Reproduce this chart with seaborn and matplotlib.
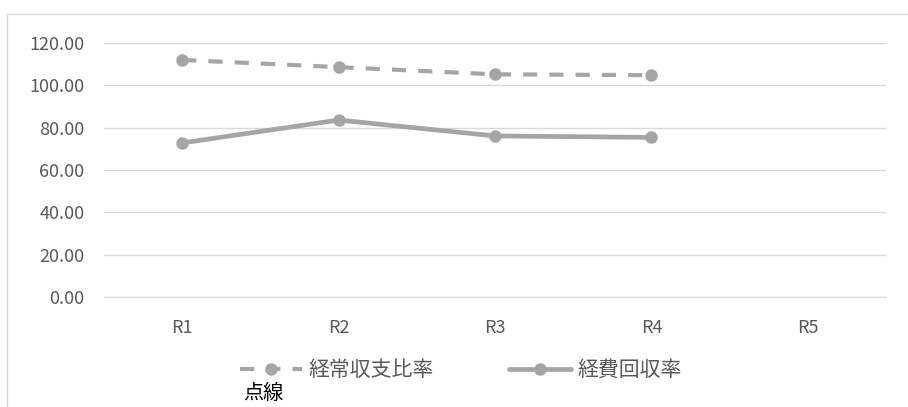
import matplotlib
matplotlib.use("Agg")
import matplotlib.pyplot as plt
import seaborn as sns
import pandas as pd
from matplotlib.patches import Rectangle
from matplotlib.lines import Line2D

categories = ["R1", "R2", "R3", "R4", "R5"]
keijo = [112.0, 108.6, 105.2, 104.8, None]
keihi = [72.8, 83.6, 76.1, 75.4, None]
series_names = ["経常収支比率", "経費回収率"]
yticks = [0, 20, 40, 60, 80, 100, 120]

sns.set_style("white")
plt.rcParams['font.family'] = ['Noto Sans CJK JP', 'DejaVu Sans']

W, H = 908, 407
fig = plt.figure(figsize=(W / 100, H / 100), dpi=100)
ax = fig.add_axes([104 / W, 1 - 297 / H, (886 - 104) / W, (297 - 43) / H])

df = pd.DataFrame({"x": list(range(5)) * 2,
                   "val": keijo + keihi,
                   "series": [series_names[0]] * 5 + [series_names[1]] * 5})
df = df.dropna()
gray = "#A5A5A5"
d1 = df[df.series == series_names[0]]
d2 = df[df.series == series_names[1]]
dash = (0, (3.4, 2.9))
ms = 9
sns.lineplot(data=d1, x="x", y="val", ax=ax, color=gray, lw=3.0, linestyle=dash,
             marker="o", markersize=ms, markeredgewidth=0, legend=False)
sns.lineplot(data=d2, x="x", y="val", ax=ax, color=gray, lw=3.4,
             marker="o", markersize=ms, markeredgewidth=0, legend=False)

ax.set_xlim(-0.5, 4.5)
ax.set_ylim(0, 120)
ax.set_yticks(yticks)
ax.set_yticklabels([f"{v:.2f}" for v in yticks])
ax.set_xticks(range(5))
ax.set_xticklabels(categories)
ax.set_xlabel("")
ax.set_ylabel("")
ax.grid(axis="y", color="#D9D9D9", lw=1)
ax.set_axisbelow(True)
for s in ["top", "right", "left"]:
    ax.spines[s].set_visible(False)
ax.spines["bottom"].set_color("#D9D9D9")
ax.tick_params(axis="both", length=0, labelsize=13, labelcolor="#595959")
ax.tick_params(axis="x", pad=16)
ax.tick_params(axis="y", pad=14)

# outer border
fig.patches.append(Rectangle((7 / W, -0.05), 1.2, 1 - 14 / H + 0.05, transform=fig.transFigure,
                             fill=False, edgecolor="#D9D9D9", lw=1))

handles = [Line2D([], [], color=gray, lw=3.0, linestyle=dash, marker="o", markersize=ms, markeredgewidth=0),
           Line2D([], [], color=gray, lw=3.4, marker="o", markersize=ms, markeredgewidth=0)]
fig.legend(handles, series_names, loc="center", bbox_to_anchor=(461 / W, 1 - 370 / H), ncol=2,
           frameon=False, fontsize=15, labelcolor="#595959", handlelength=3.0, handletextpad=0.3,
           columnspacing=3.6)
fig.text(243 / W, 1 - 393 / H, "点線", fontsize=14.5, color="#000000", va="center", ha="left")

fig.savefig("out.png", dpi=100)
